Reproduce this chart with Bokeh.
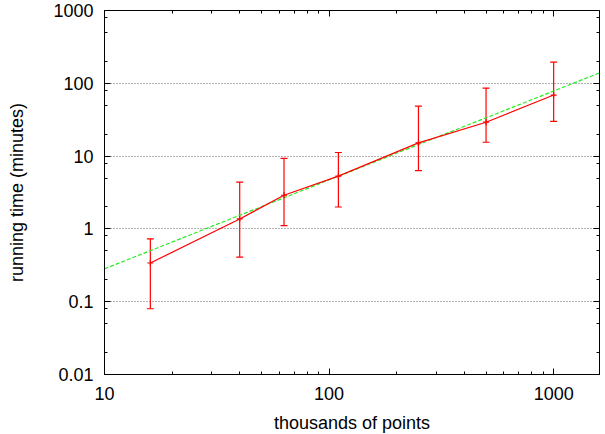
from bokeh.plotting import figure
from bokeh.models import FixedTicker, LogAxis, Whisker, ColumnDataSource, TeeHead
from bokeh.embed import file_html
from bokeh.resources import INLINE

# ---- data ----
points_k = [16, 40, 63, 110, 250, 500, 1000]          # thousands of points
run_min = [0.34, 1.37, 2.9, 5.3, 15.2, 29.2, 69]      # running time (minutes)
run_hi = [0.73, 4.4, 9.3, 11.2, 48.5, 86, 195]
run_lo = [0.08, 0.41, 1.11, 2.0, 6.3, 15.5, 30]
fit_x = [10, 1600]
fit_y = [0.283, 139]

x_major = [10, 100, 1000]
x_labels = ["10", "100", "1000"]
y_major = [0.01, 0.1, 1, 10, 100, 1000]
y_labels = ["0.01", "0.1", "1", "10", "100", "1000"]

x_minor = [m * d for d in (10, 100, 1000) for m in range(2, 10)]
y_minor = [m * d for d in (0.01, 0.1, 1, 10, 100) for m in (2, 5, 8)]

FONT = "Liberation Sans"
FS = "18px"

p = figure(x_axis_type="log", y_axis_type="log",
           x_range=(10, 1600), y_range=(0.01, 1000),
           frame_width=495, frame_height=364,
           min_border_left=104, min_border_right=4,
           min_border_top=10, min_border_bottom=58,
           output_backend="svg", toolbar_location=None)
p.background_fill_color = "white"
p.border_fill_color = "white"
p.outline_line_color = "black"
p.outline_line_width = 1
p.outline_line_alpha = 1

xt = FixedTicker(ticks=x_major, minor_ticks=x_minor)
yt = FixedTicker(ticks=y_major, minor_ticks=y_minor)

def style_axis(ax, ticker, labels, show=True):
    ax.ticker = ticker
    ax.major_tick_in = 6
    ax.major_tick_out = 0
    ax.minor_tick_in = 3
    ax.minor_tick_out = 0
    ax.major_tick_line_color = "black"
    ax.minor_tick_line_color = "black"
    ax.axis_line_color = "black"
    ax.major_label_overrides = labels
    if show:
        ax.major_label_text_font = FONT
        ax.major_label_text_font_size = FS
        ax.major_label_text_color = "black"
        ax.axis_label_text_font = FONT
        ax.axis_label_text_font_size = FS
        ax.axis_label_text_font_style = "normal"
        ax.axis_label_text_color = "black"
    else:
        ax.major_label_text_font_size = "1px"
        ax.major_label_text_alpha = 0
        ax.major_label_standoff = 0
        ax.axis_line_color = None

xa = p.xaxis[0]
style_axis(xa, xt, dict(zip(x_major, x_labels)))
xa.axis_label = "thousands of points"
xa.major_label_standoff = 12
xa.axis_label_standoff = 10

ya = p.yaxis[0]
style_axis(ya, yt, dict(zip(y_major, y_labels)))
ya.axis_label = "running time (minutes)"
ya.major_label_standoff = 11
ya.axis_label_standoff = 23

top = LogAxis()
style_axis(top, xt, dict(zip(x_major, x_labels)), show=False)
p.add_layout(top, "above")
right = LogAxis()
style_axis(right, yt, dict(zip(y_major, y_labels)), show=False)
p.add_layout(right, "right")

p.xgrid.visible = False
p.ygrid.ticker = FixedTicker(ticks=y_major[1:-1])
p.ygrid.grid_line_color = "#666666"
p.ygrid.grid_line_dash = "1 2"
p.ygrid.grid_line_width = 1

# fit line
p.line(fit_x, fit_y, line_color="#22ee22", line_width=1.2, line_dash="4 2")

src = ColumnDataSource(dict(x=points_k, y=run_min, hi=run_hi, lo=run_lo))
p.line("x", "y", source=src, line_color="#ff0000", line_width=1.2)
wh = Whisker(base="x", upper="hi", lower="lo", source=src,
             line_color="#ff0000", line_width=1.2,
             upper_head=TeeHead(size=7, line_color="#ff0000", line_width=1.2),
             lower_head=TeeHead(size=7, line_color="#ff0000", line_width=1.2))
p.add_layout(wh)
p.scatter("x", "y", source=src, marker="cross", size=6, line_color="#ff0000", line_width=1.2)

open("out.html", "w").write(file_html(p, INLINE))
